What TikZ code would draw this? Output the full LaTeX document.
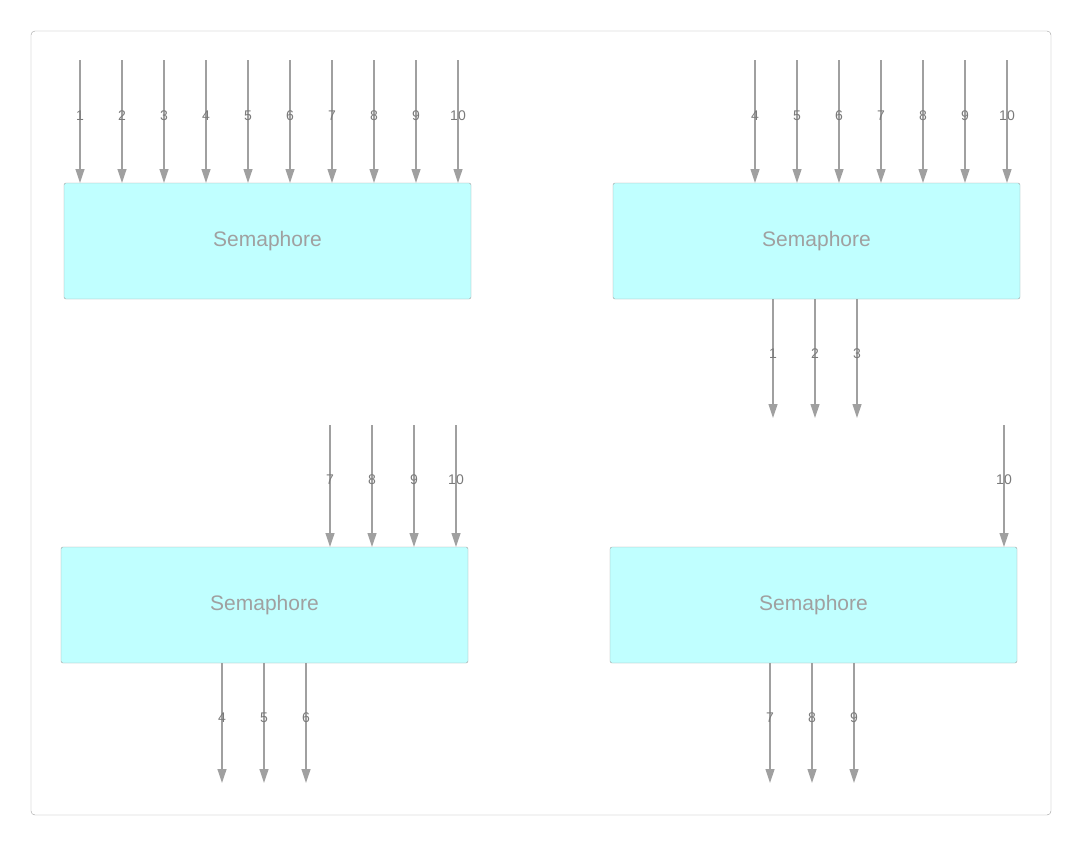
\documentclass[tikz,border=0pt]{standalone}
\usepackage{fontspec}
\setmainfont{Liberation Sans}
\usetikzlibrary{arrows.meta}
\definecolor{semfill}{HTML}{C0FFFF}
\definecolor{semline}{HTML}{A0A0A0}
\definecolor{semtext}{HTML}{A0A0A0}
\definecolor{numtext}{HTML}{7A7A7A}
\tikzset{
  sembox/.style={draw=semline, fill=semfill, rounded corners=2pt, minimum width=407pt, minimum height=116pt, text=semtext, font=\fontsize{21}{24}\selectfont, inner sep=0pt},
  flow/.style={draw=semline, line width=1.2pt, -{Triangle[width=9pt,length=14pt]}},
  num/.style={text=numtext, font=\fontsize{14}{16}\selectfont, inner sep=0pt}
}
\begin{document}
\begin{tikzpicture}[x=1pt, y=-1pt]
\useasboundingbox (0,0) rectangle (1082,846);
\draw[draw=semline, rounded corners=4pt] (31,31) rectangle (1051,815);
\node[sembox] (semA) at (267.5,241) {Semaphore};
\node[sembox] (semB) at (816.5,241) {Semaphore};
\node[sembox] (semC) at (264.5,605) {Semaphore};
\node[sembox] (semD) at (813.5,605) {Semaphore};
% top left: 1..10 in
\foreach \i in {1,...,10} {
  \coordinate (a\i) at ({80+42*(\i-1)},60);
  \coordinate (ae\i) at ({80+42*(\i-1)},183);
  \draw[flow] (a\i) -- (ae\i);
  \node[num] at ({80+42*(\i-1)},116) {\i};
}
% top right: 4..10 in, 1..3 out
\foreach \i in {4,...,10} {
  \coordinate (b\i) at ({755+42*(\i-4)},60);
  \coordinate (be\i) at ({755+42*(\i-4)},183);
  \draw[flow] (b\i) -- (be\i);
  \node[num] at ({755+42*(\i-4)},116) {\i};
}
\foreach \i in {1,2,3} {
  \coordinate (bo\i) at ({773+42*(\i-1)},299);
  \coordinate (boe\i) at ({773+42*(\i-1)},418);
  \draw[flow] (bo\i) -- (boe\i);
  \node[num] at ({773+42*(\i-1)},354) {\i};
}
% bottom left: 7..10 in, 4..6 out
\foreach \i in {7,...,10} {
  \coordinate (c\i) at ({330+42*(\i-7)},425);
  \coordinate (ce\i) at ({330+42*(\i-7)},547);
  \draw[flow] (c\i) -- (ce\i);
  \node[num] at ({330+42*(\i-7)},480) {\i};
}
\foreach \i in {4,5,6} {
  \coordinate (co\i) at ({222+42*(\i-4)},663);
  \coordinate (coe\i) at ({222+42*(\i-4)},783);
  \draw[flow] (co\i) -- (coe\i);
  \node[num] at ({222+42*(\i-4)},718) {\i};
}
% bottom right: 10 in, 7..9 out
\coordinate (d10) at (1004,425);
\coordinate (de10) at (1004,547);
\draw[flow] (d10) -- (de10);
\node[num] at (1004,480) {10};
\foreach \i in {7,8,9} {
  \coordinate (do\i) at ({770+42*(\i-7)},663);
  \coordinate (doe\i) at ({770+42*(\i-7)},783);
  \draw[flow] (do\i) -- (doe\i);
  \node[num] at ({770+42*(\i-7)},718) {\i};
}
\end{tikzpicture}
\end{document}
